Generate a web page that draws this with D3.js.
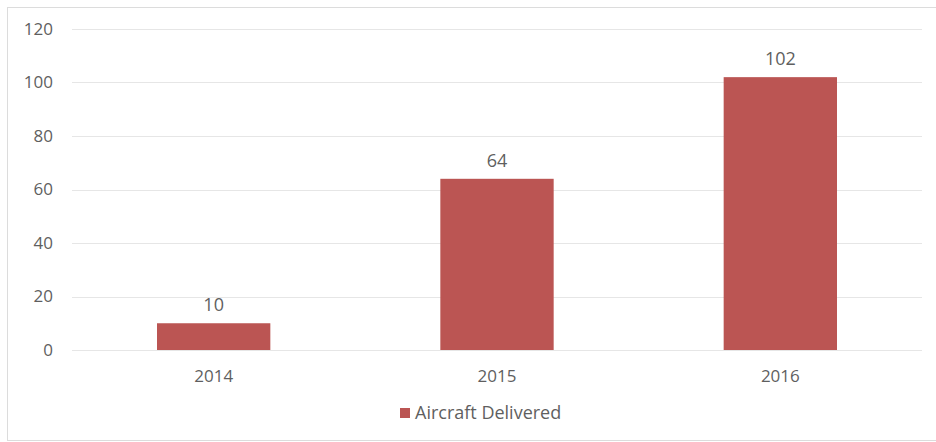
<!DOCTYPE html>
<html>
<head>
<meta charset="utf-8">
<script src="https://cdn.jsdelivr.net/npm/d3@7"></script>
<style>
  body { margin: 0; background: #fff; }
  text { font-family: "Open Sans", "Liberation Sans", sans-serif; fill: #5f5f5f; }
</style>
</head>
<body>
<div id="chart"></div>
<script>
// chart data
const years = ['2014', '2015', '2016'];
const delivered = [10, 64, 102];
const yTicks = [0, 20, 40, 60, 80, 100, 120];
const seriesName = 'Aircraft Delivered';

const W = 936, H = 442;
const margin = { top: 29, right: 14, bottom: 92, left: 72 };
const width = W - margin.left - margin.right;
const height = H - margin.top - margin.bottom;

const svg = d3.select('#chart')
  .append('svg')
  .attr('width', W)
  .attr('height', H);

// outer frame
svg.append('rect')
  .attr('x', 7.5).attr('y', 7.5)
  .attr('width', W + 10).attr('height', H - 9)
  .attr('fill', 'none')
  .attr('stroke', '#dcdcdc');

const g = svg.append('g')
  .attr('transform', `translate(${margin.left}, ${margin.top})`);

const x = d3.scaleBand()
  .domain(years)
  .range([0, width])
  .paddingInner(0.6)
  .paddingOuter(0.3);

const y = d3.scaleLinear()
  .domain([0, 120])
  .range([height, 0]);

// gridlines
g.append('g')
  .selectAll('line')
  .data(yTicks)
  .enter().append('line')
  .attr('x1', 0).attr('x2', width)
  .attr('y1', d => Math.round(y(d)) + 0.5)
  .attr('y2', d => Math.round(y(d)) + 0.5)
  .attr('stroke', '#e6e6e6');

// y axis labels
g.append('g')
  .selectAll('text')
  .data(yTicks)
  .enter().append('text')
  .attr('x', -19)
  .attr('y', d => y(d))
  .attr('dy', '0.35em')
  .attr('text-anchor', 'end')
  .style('font-size', '17px')
  .text(d => d);

// bars
const data = years.map((yr, i) => ({ year: yr, value: delivered[i] }));

g.selectAll('.bar')
  .data(data)
  .enter().append('rect')
  .attr('class', 'bar')
  .attr('x', d => x(d.year))
  .attr('y', d => y(d.value))
  .attr('width', x.bandwidth())
  .attr('height', d => height - y(d.value))
  .attr('fill', '#bb5553');

// value labels
g.selectAll('.val')
  .data(data)
  .enter().append('text')
  .attr('class', 'val')
  .attr('x', d => x(d.year) + x.bandwidth() / 2)
  .attr('y', d => y(d.value) - 12)
  .attr('text-anchor', 'middle')
  .style('font-size', '18px')
  .text(d => d.value);

// x labels
g.selectAll('.xl')
  .data(years)
  .enter().append('text')
  .attr('class', 'xl')
  .attr('x', d => x(d) + x.bandwidth() / 2)
  .attr('y', height + 32)
  .attr('text-anchor', 'middle')
  .style('font-size', '17px')
  .text(d => d);

// legend
const leg = svg.append('g').attr('transform', 'translate(400, 408)');
leg.append('rect')
  .attr('width', 10).attr('height', 10)
  .attr('fill', '#bb5553');
leg.append('text')
  .attr('x', 15).attr('y', 11)
  .style('font-size', '18px')
  .text(seriesName);
</script>
</body>
</html>
